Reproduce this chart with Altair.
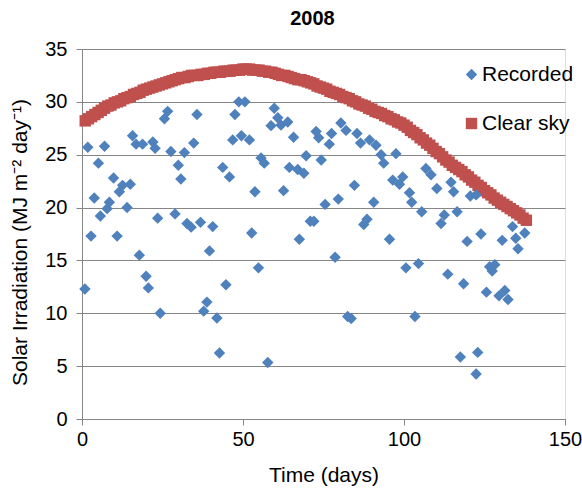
import altair as alt
import pandas as pd

# Recorded daily solar irradiation (day, MJ m-2 day-1)
rec_day = [0.9, 1.8, 2.8, 3.8, 5.1, 5.7, 7.0, 7.8, 8.5, 9.8, 10.9, 11.6, 12.6, 14.0, 15.0,
           15.7, 16.8, 17.8, 18.8, 19.9, 20.6, 22.0, 22.7, 23.5, 24.3,
           25.6, 26.6, 27.6, 28.9, 29.9, 30.7, 31.8, 32.6, 33.9, 34.7, 35.7, 36.8, 37.8,
           38.8, 39.6, 40.6, 41.9, 42.7, 43.7, 44.7, 45.8, 46.8, 47.5, 48.7, 49.5, 50.6,
           52.0, 52.7, 53.7, 54.8, 55.6, 56.6, 57.7, 58.7, 59.7, 60.8, 61.8, 62.6, 63.9,
           64.4, 65.7, 67.0, 67.5, 68.9, 69.6, 70.9, 72.0, 72.7, 73.5, 74.3,
           75.5, 76.8, 77.5, 78.6, 79.6, 80.4, 82.0, 82.5, 83.6, 84.6, 85.4, 86.5, 87.5,
           88.5, 89.3, 90.6, 91.3, 92.9, 93.7, 95.5, 96.5, 97.5, 98.6,
           99.6, 100.6, 101.7, 102.4, 103.4, 104.5, 105.5, 106.8, 108.4, 110.2, 111.5,
           112.5, 113.6, 114.6, 115.4, 116.5, 117.5, 118.5, 119.6, 120.6, 122.4, 122.4,
           122.9, 123.9, 125.6, 126.6, 127.4, 128.2, 129.5, 130.5, 131.3, 132.3, 133.7,
           134.7, 135.4, 137.5]
rec_val = [12.3, 25.7, 17.3, 20.9, 24.2, 19.2, 25.8, 19.9, 20.5, 22.8, 17.3, 21.5, 22.1, 20.0, 22.2,
           26.8, 26.0, 15.5, 26.0, 13.5, 12.4, 26.2, 25.6, 19.0, 10.0,
           28.4, 29.1, 25.3, 19.4, 24.0, 22.7, 25.2, 18.5, 18.15, 26.1, 28.8, 18.6, 10.2,
           11.06, 15.9, 18.2, 9.55, 6.24, 23.8, 12.7, 22.9, 26.4, 28.8, 30.0, 26.8, 30.0,
           26.4, 17.6, 21.5, 14.3, 24.7, 24.2, 5.35, 27.75, 29.4, 28.5, 27.8, 21.6, 28.1,
           23.8, 26.65, 23.6, 17.0, 23.25, 24.9, 18.7, 18.7, 27.2, 26.6, 24.5,
           20.3, 26.0, 27.0, 15.3, 20.8, 28.0, 27.3, 9.7, 9.5, 22.1, 27.0, 26.1, 18.4,
           18.9, 26.4, 20.5, 25.9, 25.0, 24.2, 17.0, 22.6, 25.1, 22.2,
           22.9, 14.3, 21.4, 20.5, 9.7, 14.7, 19.6, 23.7, 23.1, 21.8, 18.5,
           19.3, 13.7, 22.4, 21.5, 19.6, 5.86, 12.8, 16.8, 21.1, 21.2, 4.25,
           6.3, 17.5, 12.0, 14.4, 14.0, 14.6, 11.65, 16.9, 12.15, 11.3, 18.2,
           17.1, 16.1, 17.6]

# Clear sky irradiation, days 1..138
clear_day = list(range(1, 139))
clear_val = [28.2, 28.4, 28.6, 28.8, 29.0, 29.2, 29.4, 29.6, 29.7, 29.9,
             30.0, 30.1, 30.3, 30.4, 30.5, 30.7, 30.8, 30.9, 31.1, 31.2,
             31.3, 31.4, 31.5, 31.6, 31.7, 31.8, 31.9, 32.0, 32.1, 32.2,
             32.3, 32.3, 32.4, 32.5, 32.5, 32.5, 32.6, 32.6, 32.7, 32.7,
             32.8, 32.8, 32.8, 32.9, 32.9, 32.9, 33.0, 33.0, 33.0, 33.1,
             33.1, 33.1, 33.0, 33.0, 33.0, 32.9, 32.9, 32.8, 32.8, 32.7,
             32.6, 32.5, 32.5, 32.4, 32.3, 32.2, 32.1, 32.1, 32.0, 31.9,
             31.8, 31.7, 31.5, 31.4, 31.3, 31.2, 31.0, 30.9, 30.8, 30.7,
             30.5, 30.4, 30.3, 30.1, 30.0, 29.8, 29.7, 29.6, 29.4, 29.3,
             29.1, 29.0, 28.9, 28.7, 28.6, 28.4, 28.3, 28.1, 28.0, 27.8,
             27.6, 27.3, 27.1, 26.9, 26.6, 26.4, 26.1, 25.9, 25.6, 25.3,
             25.1, 24.8, 24.5, 24.3, 24.0, 23.8, 23.6, 23.4, 23.1, 22.9,
             22.6, 22.4, 22.1, 21.9, 21.6, 21.4, 21.2, 20.9, 20.7, 20.5,
             20.3, 20.1, 19.9, 19.7, 19.5, 19.3, 19.0, 18.8]

series_names = ["Recorded", "Clear sky"]
series_colors = ["#4F81BD", "#C0504D"]
series_shapes = ["diamond", "square"]
x_ticks = [0, 50, 100, 150]
y_ticks = [0, 5, 10, 15, 20, 25, 30, 35]

df = pd.concat([
    pd.DataFrame({"day": clear_day, "value": clear_val, "series": "Clear sky", "ord": 0}),
    pd.DataFrame({"day": rec_day, "value": rec_val, "series": "Recorded", "ord": 1}),
], ignore_index=True)

FONT = "Liberation Sans"
GRID = "#868686"
LBL = 20
TTL = 21

chart = alt.Chart(df).mark_point(filled=True, opacity=1, size=130).encode(
    x=alt.X("day:Q", scale=alt.Scale(domain=[0, 150], nice=False),
            axis=alt.Axis(values=x_ticks, title="Time (days)", grid=False, labelFlush=False,
                          domainColor=GRID, tickColor=GRID, tickSize=6, labelPadding=4,
                          titleY=56, titleBaseline="middle",
                          labelFontSize=LBL, titleFontSize=TTL,
                          labelFont=FONT, titleFont=FONT, titleFontWeight="normal",
                          labelColor="#000000", titleColor="#000000")),
    y=alt.Y("value:Q", scale=alt.Scale(domain=[0, 35], nice=False),
            axis=alt.Axis(values=y_ticks, title="Solar Irradiation (MJ m\u207b\u00b2  day\u207b\u00b9)",
                          grid=True, gridColor=GRID, gridWidth=1.2, labelFlush=False,
                          domainColor=GRID, tickColor=GRID, tickSize=6, labelPadding=9,
                          titleX=-62, titleY=193, titleAngle=270, titleAlign="center",
                          titleBaseline="middle",
                          labelFontSize=LBL, titleFontSize=TTL,
                          labelFont=FONT, titleFont=FONT, titleFontWeight="normal",
                          labelColor="#000000", titleColor="#000000")),
    color=alt.Color("series:N", scale=alt.Scale(domain=series_names, range=series_colors),
                    legend=alt.Legend(title=None, orient="none", legendX=379, legendY=15,
                                      labelFont=FONT, labelFontSize=TTL, labelColor="#000000",
                                      symbolSize=130, rowPadding=27, labelOffset=0, padding=0)),
    shape=alt.Shape("series:N", scale=alt.Scale(domain=series_names, range=series_shapes),
                    legend=None),
    order=alt.Order("ord:Q"),
).properties(
    width=483, height=370,
    title=alt.TitleParams("2008", font=FONT, fontSize=20, fontWeight="bold", color="#000000",
                          anchor="middle", dx=-11, offset=10),
    autosize=alt.AutoSizeParams(type="none"),
    padding={"left": 82, "top": 49, "right": 17, "bottom": 70},
).configure_view(stroke=None).configure(background="white")

chart.save("out.html", embed_options={"renderer": "svg", "actions": False})
